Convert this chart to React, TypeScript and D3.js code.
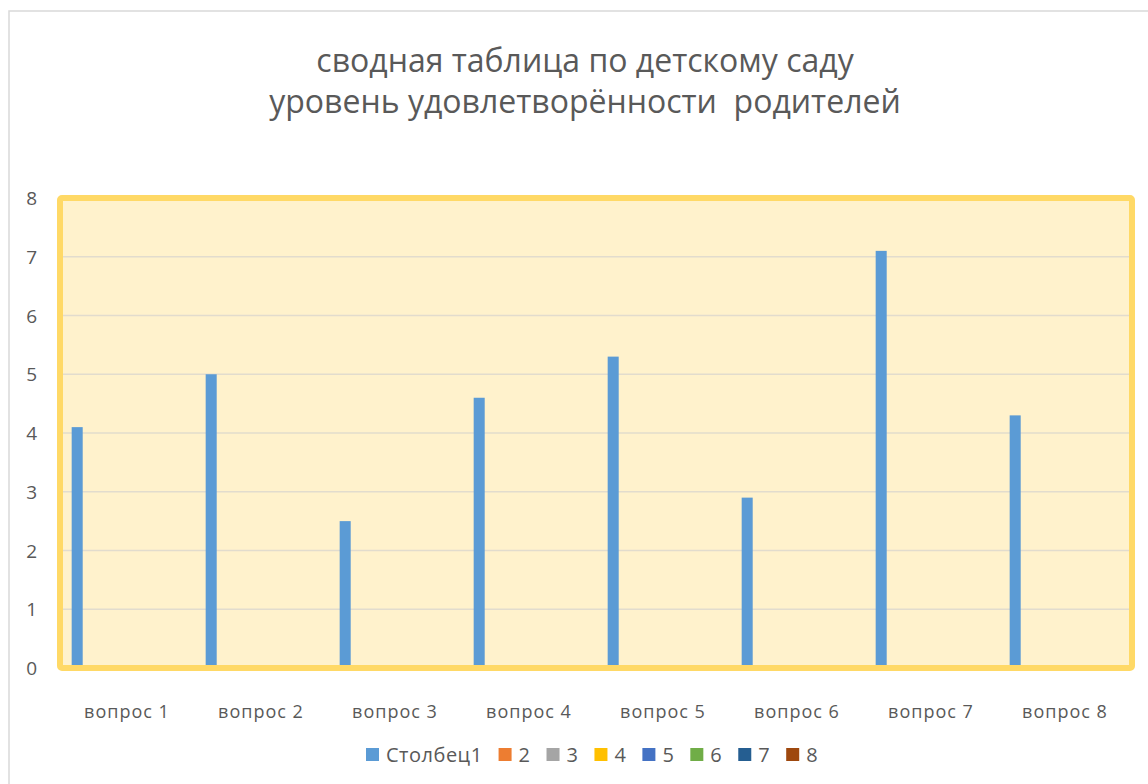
import React, { useEffect, useRef } from 'react';
import * as d3 from 'd3';

const categories = ['вопрос 1', 'вопрос 2', 'вопрос 3', 'вопрос 4', 'вопрос 5', 'вопрос 6', 'вопрос 7', 'вопрос 8'];
const seriesNames = ['Столбец1', '2', '3', '4', '5', '6', '7', '8'];
const seriesColors = ['#5B9BD5', '#ED7D31', '#A5A5A5', '#FFC000', '#4472C4', '#70AD47', '#255E91', '#9E480E'];
const column1Values = [4.1, 5.0, 2.5, 4.6, 5.3, 2.9, 7.1, 4.3];
const yTicks = [0, 1, 2, 3, 4, 5, 6, 7, 8];
const titleLines = ['сводная таблица по детскому саду', 'уровень удовлетворённости  родителей'];

export default function App() {
  const svgRef = useRef<SVGSVGElement>(null);

  useEffect(() => {
    if (!svgRef.current) return;
    const svg = d3.select(svgRef.current);
    svg.selectAll('*').remove();

    const W = 1148;
    const H = 784;
    const plot = { left: 60, right: 1132, top: 198, bottom: 668 };
    const font = '"Open Sans", "Noto Sans", sans-serif';
    const textColor = '#595959';

    svg.append('rect').attr('width', W).attr('height', H).style('fill', '#fff');

    // Outer chart border
    svg.append('rect')
      .attr('x', 9).attr('y', 11)
      .attr('width', W + 20).attr('height', H + 20)
      .style('fill', 'none')
      .style('stroke', '#d9d9d9')
      .style('stroke-width', 1.5);

    // Title
    svg.append('g')
      .selectAll('text')
      .data(titleLines)
      .enter()
      .append('text')
      .attr('x', 585)
      .attr('y', (d, i) => 72 + i * 41)
      .attr('text-anchor', 'middle')
      .style('font-family', font)
      .style('font-size', '32px')
      .style('fill', textColor)
      .style('white-space', 'pre')
      .text(d => d);

    const x0 = d3.scaleBand<string>()
      .domain(categories)
      .range([plot.left, plot.right])
      .padding(0);

    const x1 = d3.scaleBand<string>()
      .domain(seriesNames)
      .range([0, x0.bandwidth()])
      .paddingInner(0.225)
      .paddingOuter(0.82);

    const y = d3.scaleLinear()
      .domain([0, 8])
      .range([plot.bottom, plot.top]);

    // Plot area
    svg.append('rect')
      .attr('x', plot.left).attr('y', plot.top)
      .attr('width', plot.right - plot.left)
      .attr('height', plot.bottom - plot.top)
      .attr('rx', 2)
      .style('fill', '#FFF2CC');

    // Gridlines
    svg.append('g')
      .selectAll('line')
      .data(yTicks.slice(1, -1))
      .enter()
      .append('line')
      .attr('x1', plot.left).attr('x2', plot.right)
      .attr('y1', d => y(d)).attr('y2', d => y(d))
      .style('stroke', '#e2dccd')
      .style('stroke-width', 1.5);

    // Bars
    const groups = svg.append('g')
      .selectAll('g')
      .data(categories)
      .enter()
      .append('g')
      .attr('transform', d => `translate(${x0(d)},0)`);

    groups.each(function (cat, ci) {
      const vals = seriesNames.map((s, si) => ({ s, v: si === 0 ? column1Values[ci] : 0, c: seriesColors[si] }));
      d3.select(this)
        .selectAll('rect')
        .data(vals.filter(d => d.v > 0))
        .enter()
        .append('rect')
        .attr('x', d => x1(d.s)!)
        .attr('y', d => y(d.v))
        .attr('width', x1.bandwidth())
        .attr('height', d => y(0) - y(d.v))
        .style('fill', d => d.c);
    });

    // Plot border
    svg.append('rect')
      .attr('x', plot.left).attr('y', plot.top)
      .attr('width', plot.right - plot.left)
      .attr('height', plot.bottom - plot.top)
      .attr('rx', 2)
      .style('fill', 'none')
      .style('stroke', '#FFD966')
      .style('stroke-width', 6);

    // Y tick labels
    svg.append('g')
      .selectAll('text')
      .data(yTicks)
      .enter()
      .append('text')
      .attr('x', 37)
      .attr('y', d => y(d) + 7)
      .attr('text-anchor', 'end')
      .style('font-family', font)
      .style('font-size', '19px')
      .style('fill', textColor)
      .text(d => d);

    // Category labels
    svg.append('g')
      .selectAll('text')
      .data(categories)
      .enter()
      .append('text')
      .attr('x', d => x0(d)! + x0.bandwidth() / 2)
      .attr('y', 718)
      .attr('text-anchor', 'middle')
      .style('font-family', font)
      .style('font-size', '18px')
      .style('letter-spacing', '1px')
      .style('fill', textColor)
      .text(d => d);

    // Legend
    const legend = svg.append('g').attr('transform', 'translate(366,755)');
    let lx = 0;
    seriesNames.forEach((name, i) => {
      legend.append('rect')
        .attr('x', lx).attr('y', -7)
        .attr('width', 13).attr('height', 13)
        .style('fill', seriesColors[i]);
      const t = legend.append('text')
        .attr('x', lx + 20)
        .attr('y', 7)
        .style('font-family', font)
        .style('font-size', '20px')
        .style('letter-spacing', '0.5px')
        .style('fill', textColor)
        .text(name);
      const w = (t.node() as SVGTextElement).getComputedTextLength();
      lx += 20 + w + 16;
    });
  }, []);

  return (
    <div style={{ position: 'absolute', left: 0, top: 0, width: 1148, height: 784, overflow: 'hidden' }}>
      <svg ref={svgRef} width={1148} height={784} style={{ display: 'block' }} />
    </div>
  );
}
